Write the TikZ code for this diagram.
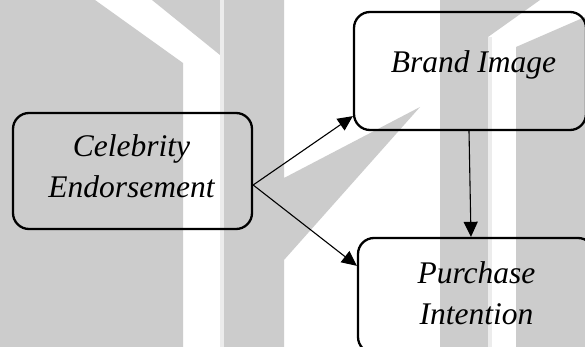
\documentclass[tikz,border=0pt]{standalone}
\usepackage{fontspec}
\setmainfont{Liberation Serif}
\usetikzlibrary{arrows.meta}
\definecolor{wmgray}{RGB}{204,204,204}
\definecolor{wmlight}{RGB}{236,236,236}
\tikzset{
  varbox/.style={draw, line width=2.3pt, rounded corners=16pt, inner sep=0pt},
  vartext/.style={anchor=north, align=center, inner sep=0pt,
    font=\fontsize{31.5}{40.5}\selectfont\itshape},
  patharrow/.style={-{Triangle[length=15pt,width=14pt]}, line width=1.1pt}
}
\begin{document}
\begin{tikzpicture}[x=1pt,y=-1pt]
  \useasboundingbox (0,0) rectangle (585,347);
  \clip (0,0) rectangle (585,347);
  % watermark behind the model
  \fill[white] (0,0) rectangle (585,347);
  \fill[wmgray] (0,0) -- (95,0) -- (183,63) -- (183,347) -- (0,347) -- cycle;
  \fill[wmgray] (152,0) -- (220,0) -- (220,55) -- cycle;
  \fill[wmlight] (220,0) rectangle (224,347);
  \fill[wmgray] (224,0) -- (284,0) -- (284,178) -- (420,107) -- (284,260)
    -- (284,347) -- (224,347) -- cycle;
  \fill[wmgray] (440,0) -- (540,0) -- (488,37) -- (488,347) -- (440,347) -- cycle;
  \fill[wmlight] (488,37) rectangle (492,347);
  \fill[wmgray] (516,47) -- (585,17) -- (585,347) -- (516,347) -- cycle;
  % variables
  \node[varbox, minimum width=239pt, minimum height=116pt] (celeb) at (132.5,171) {};
  \node[varbox, minimum width=232pt, minimum height=118pt] (brand) at (470,71) {};
  \node[varbox, minimum width=236pt, minimum height=115pt] (purchase) at (476,295.5) {};
  \node[vartext] (celebtext) at (131.5,134.5) {Celebrity\\Endorsement};
  \node[vartext] (brandtext) at (473.5,50.5) {Brand Image};
  \node[vartext] (purchasetext) at (476.5,261.5) {Purchase\\Intention};
  % paths
  \draw[patharrow] ([yshift=-14pt]celeb.east) -- ([yshift=15pt]brand.south west);
  \draw[patharrow] ([yshift=-14pt]celeb.east) -- ([yshift=-29pt]purchase.north west);
  \draw[patharrow] ([xshift=-1pt]brand.south) -- ([xshift=-5pt]purchase.north);
\end{tikzpicture}
\end{document}
